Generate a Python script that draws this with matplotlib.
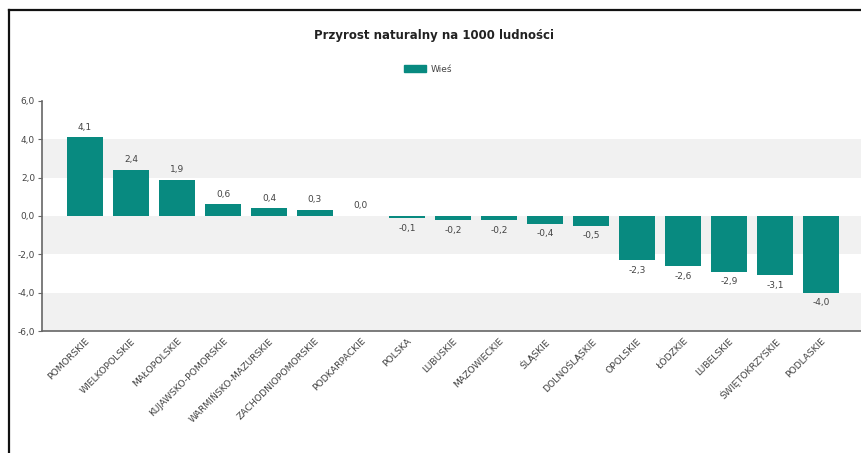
import matplotlib.pyplot as plt
from matplotlib.lines import Line2D
from matplotlib.patches import Patch
from matplotlib.transforms import ScaledTranslation

plt.rcParams["font.family"] = ["DejaVu Sans"]

# dane
regiony = ["POMORSKIE", "WIELKOPOLSKIE", "MAŁOPOLSKIE", "KUJAWSKO-POMORSKIE",
           "WARMIŃSKO-MAZURSKIE", "ZACHODNIOPOMORSKIE", "PODKARPACKIE", "POLSKA",
           "LUBUSKIE", "MAZOWIECKIE", "ŚLĄSKIE", "DOLNOŚLĄSKIE", "OPOLSKIE",
           "ŁÓDZKIE", "LUBELSKIE", "ŚWIĘTOKRZYSKIE", "PODLASKIE"]
wies = [4.1, 2.4, 1.9, 0.6, 0.4, 0.3, 0.0, -0.1, -0.2, -0.2, -0.4, -0.5,
        -2.3, -2.6, -2.9, -3.1, -4.0]
y_ticks = [-6, -4, -2, 0, 2, 4, 6]
pasy = [(2, 4), (-2, 0), (-6, -4)]

KOLOR = "#088a80"
TEKST = "#444444"


def fmt(v):
    return f"{v:.1f}".replace(".", ",")


fig = plt.figure(figsize=(8.61, 4.53), dpi=100)
ax = fig.add_axes([42 / 861, 1 - 331 / 453, 1 - 42 / 861, 230 / 453])

for lo, hi in pasy:
    ax.axhspan(lo, hi, color="#f1f1f1", zorder=0, lw=0)

x = list(range(len(regiony)))
ax.bar(x, wies, width=0.78, color=KOLOR, zorder=2)

for xi, v in zip(x, wies):
    if v >= 0:
        ax.text(xi, v + 0.3, fmt(v), ha="center", va="bottom", fontsize=6.5, color=TEKST)
    else:
        ax.text(xi, v - 0.3, fmt(v), ha="center", va="top", fontsize=6.5, color=TEKST)

ax.set_ylim(-6, 6)
ax.set_xlim(-0.935, 16.87)
ax.set_yticks(y_ticks)
ax.set_yticklabels([fmt(v) for v in y_ticks], fontsize=6.5, color=TEKST)
ax.set_xticks(x)
ax.set_xticklabels(regiony, rotation=45, ha="right", va="top",
                   rotation_mode="anchor", fontsize=6.7, color=TEKST)
przesun = ScaledTranslation(7 / 100, 0, fig.dpi_scale_trans)
for lab in ax.get_xticklabels():
    lab.set_transform(lab.get_transform() + przesun)
ax.tick_params(axis="x", length=0, pad=4)
ax.tick_params(axis="y", length=3, width=0.8, color="#666666", pad=2)

for s in ["top", "right"]:
    ax.spines[s].set_visible(False)
ax.spines["left"].set_color("#666666")
ax.spines["bottom"].set_color("#666666")
ax.spines["left"].set_linewidth(1.2)
ax.spines["bottom"].set_linewidth(1.2)

fig.text(434 / 861, 1 - 35 / 453, "Przyrost naturalny na 1000 ludności",
         ha="center", va="center", fontsize=8.5, fontweight="bold", color="#222222")

leg = fig.legend(handles=[Patch(color=KOLOR, label="Wieś")], loc="center",
                 bbox_to_anchor=(428 / 861, 1 - 69 / 453), frameon=False,
                 fontsize=6.5, handlelength=2.4, handleheight=0.9, handletextpad=0.5)
for t in leg.get_texts():
    t.set_color(TEKST)

# ramka
fig.add_artist(Line2D([9 / 861, 9 / 861], [0, 1 - 10 / 453], transform=fig.transFigure,
                      color="#111111", lw=1.6))
fig.add_artist(Line2D([9 / 861, 1], [1 - 10 / 453, 1 - 10 / 453], transform=fig.transFigure,
                      color="#111111", lw=1.6))

fig.savefig("out.png", dpi=100)
